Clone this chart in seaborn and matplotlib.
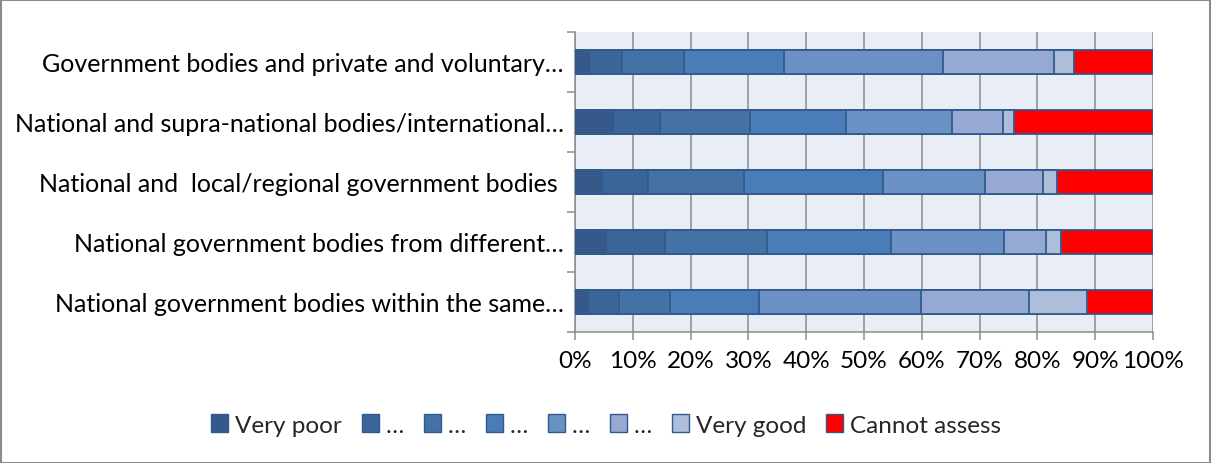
import matplotlib
matplotlib.use("Agg")
import matplotlib.pyplot as plt
from matplotlib.patches import Patch, Rectangle
import numpy as np
import pandas as pd
import seaborn as sns

categories = [
    "Government bodies and private and voluntary…",
    "National and supra-national bodies/international…",
    "National and  local/regional government bodies ",
    "National government bodies from different…",
    "National government bodies within the same…",
]
legend_labels = ["Very poor", "…", "…", "…", "…", "…", "Very good", "Cannot assess"]

very_poor = [2.5, 6.6, 4.6, 5.4, 2.2]
s2 = [5.6, 8.1, 8.0, 10.2, 5.4]
s3 = [10.7, 15.5, 16.6, 17.7, 8.8]
s4 = [17.4, 16.6, 24.1, 21.4, 15.4]
s5 = [27.4, 18.4, 17.7, 19.6, 28.1]
s6 = [19.3, 8.8, 10.0, 7.2, 18.6]
very_good = [3.4, 2.0, 2.4, 2.6, 10.0]
cannot_assess = [13.7, 24.0, 16.6, 15.9, 11.5]

series_values = [very_poor, s2, s3, s4, s5, s6, very_good, cannot_assess]
colors = ["#36598A", "#3B6599", "#4472A7", "#4A7DB7", "#6B91C4", "#95A9D2", "#ADBDDA", "#FF0000"]
edge = "#2F5B8E"

sns.set_theme(style="white")
plt.rcParams["font.family"] = ["Lato", "DejaVu Sans"]

FS = 17.5

fig = plt.figure(figsize=(12.12, 4.64), dpi=100)
ax = fig.add_axes([575 / 1212, 1 - 333 / 464, 578 / 1212, 300 / 464])
ax.set_facecolor("#E9EDF5")

vals = np.array(series_values)  # shape (8, 5)
cum = np.cumsum(vals, axis=0)

# draw from full-length down so the shorter cumulative bars lie on top
for i in range(len(series_values) - 1, -1, -1):
    df = pd.DataFrame({"category": categories, "value": cum[i]})
    sns.barplot(data=df, x="value", y="category", orient="h", color=colors[i],
                saturation=1, width=0.4, edgecolor=edge, linewidth=1.3, ax=ax,
                zorder=3)

ax.set_xlim(0, 100)
ax.set_ylim(4.5, -0.5)
ax.set_xticks(np.arange(0, 101, 10))
ax.set_xticklabels([f"{v}%" for v in range(0, 101, 10)])
ax.set_xlabel("")
ax.set_ylabel("")
ax.grid(axis="x", color="#8C8C8C", linewidth=1.1, zorder=0)
ax.grid(axis="y", visible=False)
ax.set_axisbelow(True)

for s in ["top", "right"]:
    ax.spines[s].set_visible(False)
for s in ["left", "bottom"]:
    ax.spines[s].set_color("#8C8C8C")
    ax.spines[s].set_linewidth(1.1)

# y ticks at category boundaries (Excel style), labels at centers
ax.set_yticks(np.arange(-0.5, 5, 1), minor=False)
ax.set_yticklabels([""] * 6)
ax.set_yticks(np.arange(0, 5), minor=True)
ax.set_yticklabels(categories, minor=True)
ax.tick_params(axis="y", which="major", length=6, color="#8C8C8C", width=1.1, left=True)
ax.tick_params(axis="y", which="minor", length=0, pad=8, labelsize=18, labelcolor="black")
ax.tick_params(axis="x", length=6, color="#8C8C8C", width=1.1, bottom=True,
               labelsize=FS, labelcolor="black", pad=7)

handles = [Patch(facecolor=c, edgecolor=edge, linewidth=1.0) for c in colors]
fig.legend(handles, legend_labels, loc="center", bbox_to_anchor=(0.5, 1 - 426 / 464),
           ncol=8, frameon=False, fontsize=FS, handlelength=0.7, handleheight=0.7,
           handletextpad=0.3, columnspacing=0.8)

fig.patches.append(Rectangle((0.001, 0.0), 0.997, 0.997, transform=fig.transFigure,
                             fill=False, edgecolor="#8C8C8C", linewidth=1.5))

fig.savefig("out.png", dpi=100, facecolor="white")
